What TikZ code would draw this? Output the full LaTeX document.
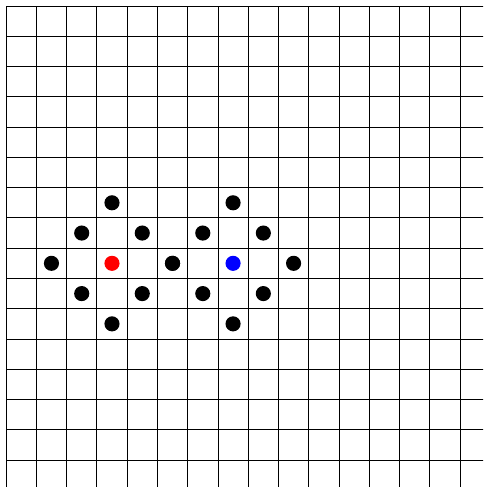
\documentclass[tikz,border=0pt]{standalone}
\begin{document}
\begin{tikzpicture}[dot/.style={circle, fill=black, inner sep=0pt, minimum size=0.5cm}]
            \useasboundingbox (-0.2,0.11) rectangle (15.76,16.2);
            % Square grid
            \begin{scope}
                \clip (-0.2,0.11) rectangle (15.76,16.2);
                \draw[line width=0.8pt] (0,0) grid (16,16);
            \end{scope}
            % Neighbours of both centres
            \foreach \cx/\c in {3.5/r, 7.5/b} {
                \foreach \dx/\dy [count=\i] in {0/2, -1/1, 1/1, -2/0, 2/0, -1/-1, 1/-1, 0/-2} {
                    \node[dot] (\c\i) at (\cx+\dx, 7.5+\dy) {};
                }
            }
            % Centres
            \node[dot, fill=red] (red) at (3.5,7.5) {};
            \node[dot, fill=blue] (blue) at (7.5,7.5) {};
        \end{tikzpicture}
\end{document}
